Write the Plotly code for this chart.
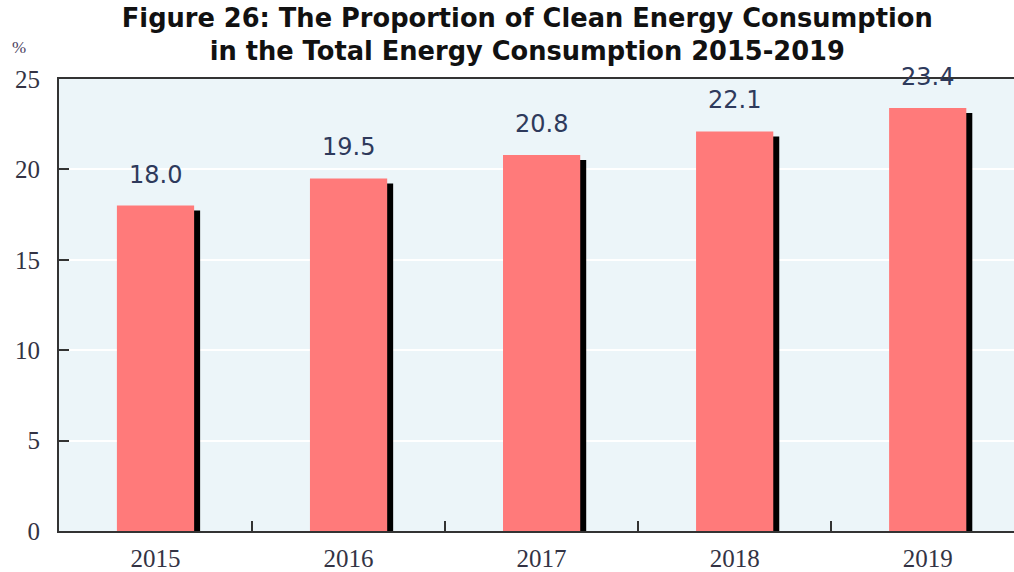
import plotly.graph_objects as go

years = ["2015", "2016", "2017", "2018", "2019"]
values = [18.0, 19.5, 20.8, 22.1, 23.4]
labels = ["18.0", "19.5", "20.8", "22.1", "23.4"]
yticks = [0, 5, 10, 15, 20, 25]

xpos = list(range(len(years)))
shadow_drop = 0.28  # in data units (~5px)
shadow_shift = 0.031  # in category units (~6px)

fig = go.Figure()
fig.add_trace(go.Bar(
    x=xpos, y=[v - shadow_drop for v in values],
    width=0.4, offset=-0.2 + shadow_shift,
    marker=dict(color="#000000", line=dict(width=0)),
    hoverinfo="skip", showlegend=False,
))
fig.add_trace(go.Bar(
    x=xpos, y=values,
    width=0.4, offset=-0.2,
    marker=dict(color="#FF7A7A", line=dict(width=0)),
    showlegend=False,
))

for xi, v, t in zip(xpos, values, labels):
    fig.add_annotation(x=xi, y=v, text=t, showarrow=False, yshift=31,
                       font=dict(family="DejaVu Sans", size=24, color="#2E3A5C"))

fig.add_annotation(xref="paper", yref="paper", x=-0.051, y=1.07, xanchor="left",
                   yanchor="middle", text="%", showarrow=False,
                   font=dict(family="Liberation Serif", size=17, color="#4A4060"))

fig.update_layout(
    width=1014, height=572,
    margin=dict(l=59, r=0, t=79, b=36),
    paper_bgcolor="white", plot_bgcolor="#ECF5F9",
    barmode="overlay",
    title=dict(text="Figure 26: The Proportion of Clean Energy Consumption<br>in the Total Energy Consumption 2015-2019",
               x=0.52, xanchor="center", y=0.953, yanchor="top",
               font=dict(family="DejaVu Sans", size=25.7, color="#111111", weight="bold")),
)
fig.update_yaxes(range=[0, 25], tickvals=yticks, ticks="inside", ticklen=10, tickwidth=2,
                 tickcolor="#333333", showline=True, linewidth=2, linecolor="#333333",
                 mirror=False, showgrid=True, gridcolor="white", gridwidth=1.5,
                 zeroline=False, ticklabelstandoff=12,
                 tickfont=dict(family="Liberation Serif", size=25, color="#333344"))
fig.update_xaxes(range=[-0.5, 4.447], tickvals=xpos, ticktext=years, ticks="",
                 showline=True, linewidth=2, linecolor="#333333", mirror=True,
                 showgrid=False, zeroline=False, ticklabelstandoff=4,
                 tickfont=dict(family="Liberation Serif", size=25, color="#333344"))
fig.update_xaxes(minor=dict(tickvals=[0.5, 1.5, 2.5, 3.5], ticks="inside", ticklen=10,
                            tickwidth=2, tickcolor="#333333", showgrid=False))

fig.write_html("out.html", config={"displayModeBar": False},
               post_script="document.body.style.margin='0';document.body.style.overflow='hidden';")
